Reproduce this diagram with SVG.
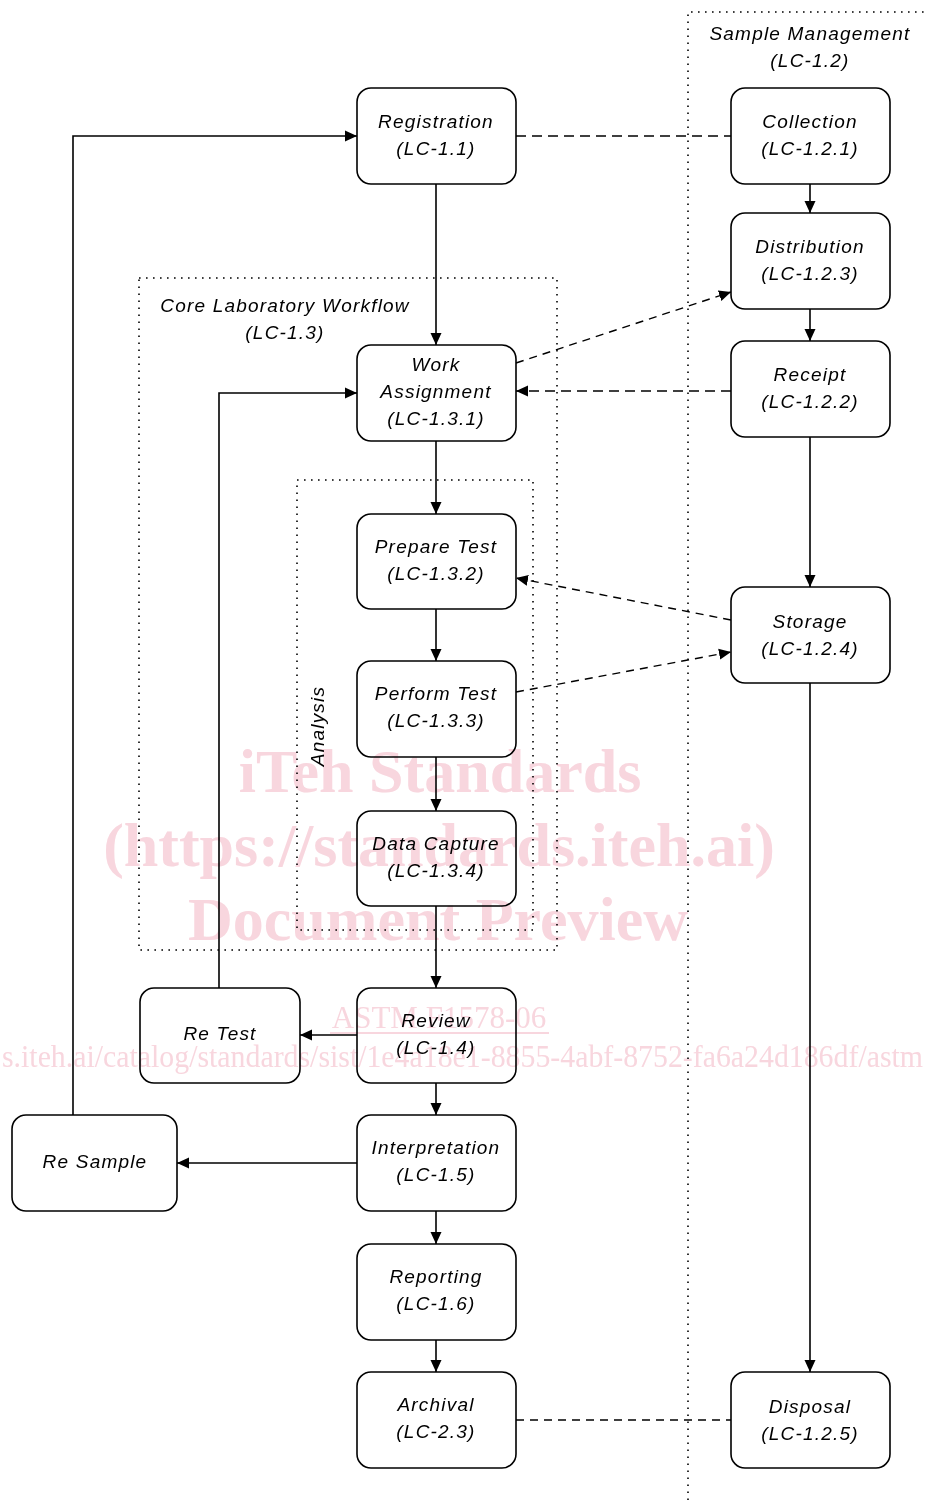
<svg xmlns="http://www.w3.org/2000/svg" width="926" height="1500" viewBox="0 0 926 1500">
  <style>
    .box { fill: #fff; stroke: #000; stroke-width: 1.6; }
    .lbl { font-family: "Liberation Sans", Arial, sans-serif; font-style: italic; font-size: 19px; letter-spacing: 1.2px; fill: #000; text-anchor: middle; }
    .frame { fill: none; stroke: #000; stroke-width: 1.6; stroke-dasharray: 1.6 5.4; }
    .flow { fill: none; stroke: #000; stroke-width: 1.6; }
    .dash { fill: none; stroke: #000; stroke-width: 1.6; stroke-dasharray: 10 6; }
    .thin { fill: none; stroke: #000; stroke-width: 1.4; stroke-dasharray: 8 6; }
    .wm { font-family: "Liberation Serif", "Times New Roman", serif; fill: #f8d6de; mix-blend-mode: multiply; }
    .mid { text-anchor: middle; }
    .start { text-anchor: start; }
  </style>
  <defs>
    <marker id="arr" markerWidth="13" markerHeight="13" refX="12" refY="6.5" orient="auto" markerUnits="userSpaceOnUse">
      <path d="M0,1 L12,6.5 L0,12 Z" fill="#000"/>
    </marker>
  </defs>

  <!-- grouping frames -->
  <g id="sample-management">
    <path class="frame" d="M688,1500 V12 H926"/>
    <text class="lbl" x="810" y="40">Sample Management</text>
    <text class="lbl" x="810" y="67">(LC-1.2)</text>
  </g>
  <g id="core-workflow">
    <rect class="frame" x="139" y="278" width="418" height="672"/>
    <text class="lbl" x="285" y="312">Core Laboratory Workflow</text>
    <text class="lbl" x="285" y="339">(LC-1.3)</text>
  </g>
  <g id="analysis">
    <rect class="frame" x="297" y="480" width="236" height="450"/>
    <text class="lbl" transform="translate(324,726) rotate(-90)">Analysis</text>
  </g>

  <!-- connectors -->
  <g id="connectors">
    <path class="flow" d="M73,1115 V136 H357" marker-end="url(#arr)"/>
    <path class="flow" d="M436,184 V345" marker-end="url(#arr)"/>
    <path class="flow" d="M436,441 V514" marker-end="url(#arr)"/>
    <path class="flow" d="M436,609 V661" marker-end="url(#arr)"/>
    <path class="flow" d="M436,757 V811" marker-end="url(#arr)"/>
    <path class="flow" d="M436,906 V988" marker-end="url(#arr)"/>
    <path class="flow" d="M436,1083 V1115" marker-end="url(#arr)"/>
    <path class="flow" d="M436,1211 V1244" marker-end="url(#arr)"/>
    <path class="flow" d="M436,1340 V1372" marker-end="url(#arr)"/>
    <path class="flow" d="M357,1035 H300" marker-end="url(#arr)"/>
    <path class="flow" d="M219,988 V393 H357" marker-end="url(#arr)"/>
    <path class="flow" d="M357,1163 H177" marker-end="url(#arr)"/>
    <path class="flow" d="M810,184 V213" marker-end="url(#arr)"/>
    <path class="flow" d="M810,309 V341" marker-end="url(#arr)"/>
    <path class="flow" d="M810,437 V587" marker-end="url(#arr)"/>
    <path class="flow" d="M810,683 V1372" marker-end="url(#arr)"/>
    <path class="dash" d="M516,136 H731" stroke-width="2.2"/>
    <path class="dash" d="M731,391 H516" marker-end="url(#arr)"/>
    <path class="thin" d="M516,363 L731,292" marker-end="url(#arr)"/>
    <path class="thin" d="M731,620 L516,578" marker-end="url(#arr)"/>
    <path class="thin" d="M516,692 L731,652" marker-end="url(#arr)"/>
    <path class="thin" d="M516,1420 H731"/>
  </g>

  <!-- nodes -->
  <g id="registration">
    <rect class="box" x="357" y="88" width="159" height="96" rx="14"/>
    <text class="lbl" x="436" y="128">Registration</text>
    <text class="lbl" x="436" y="155">(LC-1.1)</text>
  </g>
  <g id="work-assignment">
    <rect class="box" x="357" y="345" width="159" height="96" rx="14"/>
    <text class="lbl" x="436" y="371">Work</text>
    <text class="lbl" x="436" y="398">Assignment</text>
    <text class="lbl" x="436" y="425">(LC-1.3.1)</text>
  </g>
  <g id="prepare-test">
    <rect class="box" x="357" y="514" width="159" height="95" rx="14"/>
    <text class="lbl" x="436" y="553">Prepare Test</text>
    <text class="lbl" x="436" y="580">(LC-1.3.2)</text>
  </g>
  <g id="perform-test">
    <rect class="box" x="357" y="661" width="159" height="96" rx="14"/>
    <text class="lbl" x="436" y="700">Perform Test</text>
    <text class="lbl" x="436" y="727">(LC-1.3.3)</text>
  </g>
  <g id="data-capture">
    <rect class="box" x="357" y="811" width="159" height="95" rx="14"/>
    <text class="lbl" x="436" y="850">Data Capture</text>
    <text class="lbl" x="436" y="877">(LC-1.3.4)</text>
  </g>
  <g id="review">
    <rect class="box" x="357" y="988" width="159" height="95" rx="14"/>
    <text class="lbl" x="436" y="1027">Review</text>
    <text class="lbl" x="436" y="1054">(LC-1.4)</text>
  </g>
  <g id="interpretation">
    <rect class="box" x="357" y="1115" width="159" height="96" rx="14"/>
    <text class="lbl" x="436" y="1154">Interpretation</text>
    <text class="lbl" x="436" y="1181">(LC-1.5)</text>
  </g>
  <g id="reporting">
    <rect class="box" x="357" y="1244" width="159" height="96" rx="14"/>
    <text class="lbl" x="436" y="1283">Reporting</text>
    <text class="lbl" x="436" y="1310">(LC-1.6)</text>
  </g>
  <g id="archival">
    <rect class="box" x="357" y="1372" width="159" height="96" rx="14"/>
    <text class="lbl" x="436" y="1411">Archival</text>
    <text class="lbl" x="436" y="1438">(LC-2.3)</text>
  </g>
  <g id="re-test">
    <rect class="box" x="140" y="988" width="160" height="95" rx="14"/>
    <text class="lbl" x="220" y="1040">Re Test</text>
  </g>
  <g id="re-sample">
    <rect class="box" x="12" y="1115" width="165" height="96" rx="14"/>
    <text class="lbl" x="95" y="1168">Re Sample</text>
  </g>
  <g id="collection">
    <rect class="box" x="731" y="88" width="159" height="96" rx="14"/>
    <text class="lbl" x="810" y="128">Collection</text>
    <text class="lbl" x="810" y="155">(LC-1.2.1)</text>
  </g>
  <g id="distribution">
    <rect class="box" x="731" y="213" width="159" height="96" rx="14"/>
    <text class="lbl" x="810" y="253">Distribution</text>
    <text class="lbl" x="810" y="280">(LC-1.2.3)</text>
  </g>
  <g id="receipt">
    <rect class="box" x="731" y="341" width="159" height="96" rx="14"/>
    <text class="lbl" x="810" y="381">Receipt</text>
    <text class="lbl" x="810" y="408">(LC-1.2.2)</text>
  </g>
  <g id="storage">
    <rect class="box" x="731" y="587" width="159" height="96" rx="14"/>
    <text class="lbl" x="810" y="628">Storage</text>
    <text class="lbl" x="810" y="655">(LC-1.2.4)</text>
  </g>
  <g id="disposal">
    <rect class="box" x="731" y="1372" width="159" height="96" rx="14"/>
    <text class="lbl" x="810" y="1413">Disposal</text>
    <text class="lbl" x="810" y="1440">(LC-1.2.5)</text>
  </g>

  <!-- pale stamp laid over the drawing -->
  <g id="watermark">
    <text class="wm mid" x="440" y="792" font-size="62" font-weight="bold">iTeh Standards</text>
    <text class="wm mid" x="439" y="866" font-size="62" font-weight="bold">(https://standards.iteh.ai)</text>
    <text class="wm mid" x="438" y="940" font-size="62" font-weight="bold">Document Preview</text>
    <text class="wm mid" x="439" y="1028" font-size="31">ASTM F1578-06</text>
    <line x1="330" y1="1033" x2="549" y2="1033" stroke="#f8d6de" stroke-width="2" style="mix-blend-mode: multiply"/>
    <text class="wm start" x="2" y="1067" font-size="31" textLength="921" lengthAdjust="spacingAndGlyphs">s.iteh.ai/catalog/standards/sist/1e4a18e1-8855-4abf-8752-fa6a24d186df/astm</text>
  </g>
</svg>
